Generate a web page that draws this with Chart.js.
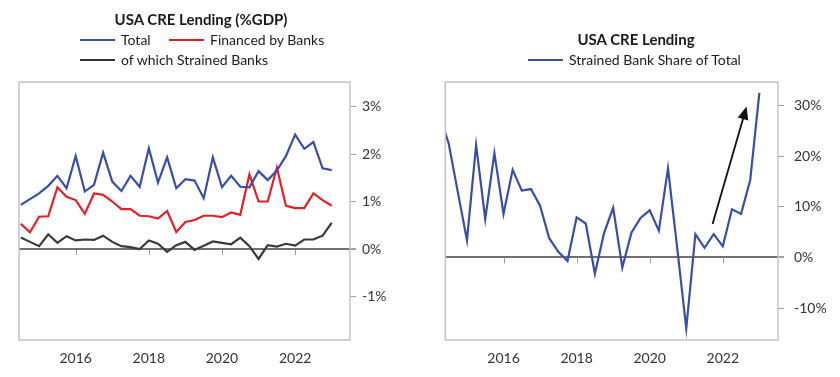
<!DOCTYPE html>
<html>
<head>
<meta charset="utf-8">
<script src="https://cdn.jsdelivr.net/npm/chart.js@4.4.1/dist/chart.umd.min.js"></script>
<style>
  body { margin: 0; background: #fff; font-family: Lato, "Open Sans", sans-serif; color: #1a1a1a; }
  #wrap { position: relative; width: 840px; height: 377px; overflow: hidden; }
  .panel { position: absolute; top: 0; width: 420px; height: 377px; }
  .titulo { position: absolute; font-weight: bold; font-size: 15px; white-space: nowrap; transform: translateX(-50%); }
  .leg { position: absolute; font-size: 14px; white-space: nowrap; display: flex; align-items: center; }
  .leg i { display: inline-block; width: 35px; height: 2px; margin-right: 6px; }
  canvas { position: absolute; left: 0; top: 0; }
</style>
</head>
<body>
<div id="wrap">
  <div class="panel" style="left:0">
    <canvas id="grafico1" width="420" height="377"></canvas>
    <div class="titulo" style="left:201px; top:10px">USA CRE Lending (%GDP)</div>
    <div class="leg" style="left:80px; top:31px"><i style="background:#3a4fa3"></i>Total</div>
    <div class="leg" style="left:169px; top:31px"><i style="background:#e0202a"></i>Financed by Banks</div>
    <div class="leg" style="left:80px; top:51px"><i style="background:#333"></i>of which Strained Banks</div>
  </div>
  <div class="panel" style="left:420px">
    <canvas id="grafico2" width="420" height="377"></canvas>
    <div class="titulo" style="left:216px; top:30px">USA CRE Lending</div>
    <div class="leg" style="left:108px; top:51px"><i style="background:#3a4fa3"></i>Strained Bank Share of Total</div>
  </div>
</div>
<script>
// dados trimestrais (fim do trimestre)
const trimestres = ['2014Q2','2014Q3','2014Q4',
  '2015Q1','2015Q2','2015Q3','2015Q4','2016Q1','2016Q2','2016Q3','2016Q4',
  '2017Q1','2017Q2','2017Q3','2017Q4','2018Q1','2018Q2','2018Q3','2018Q4',
  '2019Q1','2019Q2','2019Q3','2019Q4','2020Q1','2020Q2','2020Q3','2020Q4',
  '2021Q1','2021Q2','2021Q3','2021Q4','2022Q1','2022Q2','2022Q3','2022Q4']

const total = [0.93, 1.05, 1.17, 1.33, 1.54, 1.28, 1.96, 1.21, 1.35, 2.03, 1.42, 1.22, 1.54, 1.31, 2.12, 1.40, 1.93, 1.28,
  1.47, 1.44, 1.07, 1.93, 1.30, 1.54, 1.31, 1.30, 1.64, 1.45, 1.65, 1.96, 2.41, 2.11, 2.25, 1.70, 1.66]
const bancos = [0.53, 0.35, 0.68, 0.69, 1.30, 1.10, 1.03, 0.74, 1.17, 1.14, 1.00, 0.84, 0.84, 0.70, 0.69, 0.64, 0.80, 0.36,
  0.57, 0.61, 0.70, 0.70, 0.67, 0.77, 0.72, 1.57, 1.00, 1.00, 1.71, 0.91, 0.86, 0.86, 1.17, 1.03, 0.91]
const pressionados = [0.24, 0.15, 0.06, 0.31, 0.13, 0.27, 0.18, 0.20, 0.19, 0.28, 0.15, 0.06, 0.04, 0.00, 0.18, 0.11, -0.06, 0.08,
  0.15, -0.02, 0.07, 0.16, 0.13, 0.10, 0.24, 0.06, -0.21, 0.08, 0.05, 0.11, 0.07, 0.20, 0.20, 0.28, 0.55]

// grafico 2 tem um ponto a mais antes (fica cortado pela borda)
const trimestresShare = ['2014Q1'].concat(trimestres)
const share = [28.0, 22.5, 12.9, 3.4, 22.2, 7.6, 20.6, 8.6, 17.3, 13.2, 13.5, 10.2, 3.8, 1.1, -0.7, 7.9, 6.7, -3.2,
  4.8, 9.8, -2.0, 4.9, 7.8, 9.3, 5.3, 17.6, 2.0, -14.0, 4.6, 1.9, 4.6, 2.2, 9.5, 8.6, 15.3, 32.5]

const anosTicks = [2016, 2018, 2020, 2022]
const seta = { de: [2021.72, 6.6], ate: [2022.65, 29.8] }

function paraAno(t) {
  return Number(t.slice(0, 4)) + Number(t.slice(5)) / 4
}
function pontos(labels, valores) {
  return labels.map((t, i) => ({ x: paraAno(t), y: valores[i] }))
}

const fonteTick = { family: 'Lato', size: 14 }

// caixa + tracinhos do eixo x na linha do zero
const caixa = {
  id: 'caixa',
  afterDatasetsDraw(chart) {
    const c = chart.ctx, a = chart.chartArea
    const y0 = chart.scales.y.getPixelForValue(0)
    c.save()
    c.strokeStyle = '#c4c4c4'
    c.lineWidth = 1.5
    c.strokeRect(a.left, a.top, a.right - a.left, a.bottom - a.top)
    c.strokeStyle = '#9a9a9a'
    c.lineWidth = 1
    anosTicks.forEach(ano => {
      const x = Math.round(chart.scales.x.getPixelForValue(ano)) + 0.5
      c.beginPath()
      c.moveTo(x, y0 + 1)
      c.lineTo(x, y0 + 6)
      c.stroke()
    })
    c.restore()
  }
}

const flecha = {
  id: 'flecha',
  afterDatasetsDraw(chart) {
    const c = chart.ctx
    const sx = chart.scales.x, sy = chart.scales.y
    const x1 = sx.getPixelForValue(seta.de[0]), y1 = sy.getPixelForValue(seta.de[1])
    const x2 = sx.getPixelForValue(seta.ate[0]), y2 = sy.getPixelForValue(seta.ate[1])
    const ang = Math.atan2(y2 - y1, x2 - x1)
    const cab = 14
    c.save()
    c.strokeStyle = '#111'
    c.fillStyle = '#111'
    c.lineWidth = 1.8
    c.beginPath()
    c.moveTo(x1, y1)
    c.lineTo(x2 - cab * 0.8 * Math.cos(ang), y2 - cab * 0.8 * Math.sin(ang))
    c.stroke()
    c.beginPath()
    c.moveTo(x2, y2)
    c.lineTo(x2 - cab * Math.cos(ang - 0.4), y2 - cab * Math.sin(ang - 0.4))
    c.lineTo(x2 - cab * Math.cos(ang + 0.4), y2 - cab * Math.sin(ang + 0.4))
    c.closePath()
    c.fill()
    c.restore()
  }
}

function eixos(xmin, xmax, ymin, ymax, passoY, largY, padY) {
  return {
    x: {
      type: 'linear', min: xmin, max: xmax,
      grid: { display: false, drawTicks: false },
      border: { display: false },
      ticks: { stepSize: 2, includeBounds: false, padding: 10, color: '#333', font: fonteTick,
        callback: v => String(v) },
      afterFit: a => { a.height = 27 }
    },
    y: {
      position: 'right', min: ymin, max: ymax,
      grid: {
        color: c => (c.tick && c.tick.value === 0) ? '#707070' : 'transparent',
        lineWidth: c => (c.tick && c.tick.value === 0) ? 2 : 1,
        tickColor: '#a0a0a0', tickLength: 6
      },
      border: { display: false },
      ticks: { stepSize: passoY, includeBounds: false, padding: padY, color: '#333', font: fonteTick,
        callback: v => v + '%' },
      afterFit: a => { a.width = largY }
    }
  }
}

// Grafico 1
new Chart(document.getElementById('grafico1'), {
  type: 'line',
  data: {
    datasets: [{
      label: 'Total',
      data: pontos(trimestres, total),
      borderColor: '#3a4fa3',
      borderWidth: 2.2,
      pointRadius: 0,
      tension: 0
    }, {
      label: 'Financed by Banks',
      data: pontos(trimestres, bancos),
      borderColor: '#e0202a',
      borderWidth: 2.2,
      pointRadius: 0,
      tension: 0
    }, {
      label: 'of which Strained Banks',
      data: pontos(trimestres, pressionados),
      borderColor: '#3a3a3a',
      borderWidth: 2.2,
      pointRadius: 0,
      tension: 0
    }]
  },
  options: {
    responsive: false,
    animation: false,
    layout: { padding: { left: 19, top: 82, right: 20, bottom: 10 } },
    plugins: { legend: { display: false }, tooltip: { enabled: false } },
    scales: eixos(2014.45, 2023.5, -1.916, 3.516, 1, 50, 6)
  },
  plugins: [caixa]
})

// Grafico 2
new Chart(document.getElementById('grafico2'), {
  type: 'line',
  data: {
    datasets: [{
      label: 'Strained Bank Share of Total',
      data: pontos(trimestresShare, share),
      borderColor: '#3a4fa3',
      borderWidth: 2.2,
      pointRadius: 0,
      tension: 0,
      clip: 0
    }]
  },
  options: {
    responsive: false,
    animation: false,
    layout: { padding: { left: 25.3, top: 82, right: 10, bottom: 10 } },
    plugins: { legend: { display: false }, tooltip: { enabled: false } },
    scales: eixos(2014.407, 2023.51, -16.3, 34.64, 10, 52, 10)
  },
  plugins: [caixa, flecha]
})
</script>
</body>
</html>
